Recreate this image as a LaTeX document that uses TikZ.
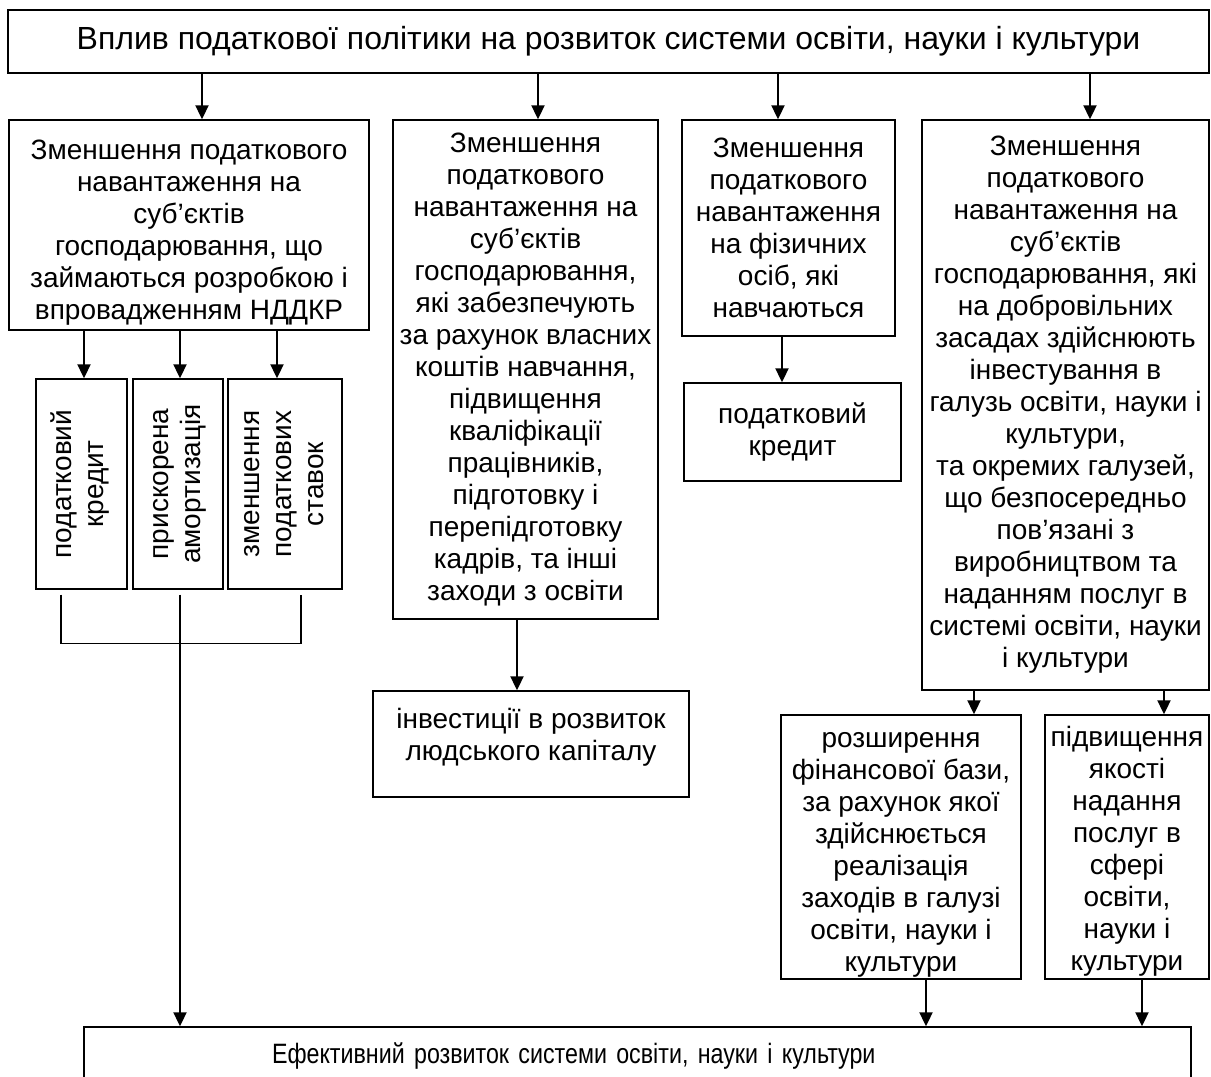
\documentclass[tikz,border=0pt]{standalone}
\usepackage{fontspec}
\usepackage{graphicx}
\setmainfont{Liberation Sans}
\newfontfamily\narrowfont[FakeStretch=0.83]{Liberation Sans}
\newcommand{\vgoru}[1]{\rule{0pt}{#1}}
\newcommand{\vnyz}[1]{\rule[-#1]{0pt}{0pt}}
\usetikzlibrary{arrows.meta,positioning}
\begin{document}
\begin{tikzpicture}[x=0.5pt, y=-0.5pt,
  font=\fontsize{14}{16}\selectfont,
  >={Triangle[length=7pt,width=6.5pt]},
  box/.style={draw, line width=0.7pt, align=center, inner sep=0pt},
  arr/.style={->, line width=1pt}]
  \path[use as bounding box, fill=white] (0,0) rectangle (1211,1077);
  \node[box, minimum width=600.5pt, minimum height=31.5pt, font=\fontsize{16}{18}\selectfont] (top) at (608.5,41.5) {Вплив податкової політики на розвиток системи освіти, науки і культури};
  \node[box, minimum width=180pt, minimum height=105pt] (rnd) at (189,225) {\vgoru{17pt}Зменшення податкового\\навантаження на\\суб’єктів\\господарювання, що\\займаються розробкою і\\впровадженням НДДКР};
  \node[box, minimum width=132.5pt, minimum height=249.5pt] (osv) at (525.5,369.5) {Зменшення\\податкового\\навантаження на\\суб’єктів\\господарювання,\\які забезпечують\\за рахунок власних\\коштів навчання,\\підвищення\\кваліфікації\\працівників,\\підготовку і\\перепідготовку\\кадрів, та інші\\заходи з освіти};
  \node[box, minimum width=106.5pt, minimum height=108pt] (fiz) at (788.5,228) {Зменшення\\податкового\\навантаження\\на фізичних\\осіб, які\\навчаються};
  \node[box, minimum width=143.5pt, minimum height=285pt] (inv) at (1065.5,405) {Зменшення\\податкового\\навантаження на\\суб’єктів\\господарювання, які\\на добровільних\\засадах здійснюють\\інвестування в\\галузь освіти, науки і\\культури,\\та окремих галузей,\\що безпосередньо\\пов’язані з\\виробництвом та\\наданням послуг в\\системі освіти, науки\\і культури};
  \node[box, minimum width=45.5pt, minimum height=105pt] (kred) at (81.5,484) {\rotatebox{90}{\begin{tabular}{@{}c@{}}податковий\\кредит\end{tabular}}};
  \node[box, minimum width=45pt, minimum height=105pt] (amort) at (178,484) {\rotatebox{90}{\begin{tabular}{@{}c@{}}прискорена\\амортизація\end{tabular}}};
  \node[box, minimum width=57pt, minimum height=105pt] (stavky) at (285,484) {\rotatebox{90}{\begin{tabular}{@{}c@{}}зменшення\\податкових\\ставок\end{tabular}}};
  \node[box, minimum width=108.5pt, minimum height=49pt] (kred2) at (792.5,432) {податковий\\кредит};
  \node[box, minimum width=158pt, minimum height=53pt] (kapital) at (531,744) {інвестиції в розвиток\\людського капіталу\vnyz{9.5pt}};
  \node[box, minimum width=120pt, minimum height=132pt] (fin) at (901,847) {\vgoru{15.5pt}розширення\\фінансової бази,\\за рахунок якої\\здійснюється\\реалізація\\заходів в галузі\\освіти, науки і\\культури};
  \node[box, minimum width=82pt, minimum height=132pt] (yakist) at (1127,847) {\vgoru{14.5pt}підвищення\\якості\\надання\\послуг в\\сфері\\освіти,\\науки і\\культури};
  \node[box, inner xsep=94pt, text width=365.5pt, align=left, minimum height=29pt, font=\narrowfont\fontsize{14}{16}\selectfont] (eff) at (637.5,1056) {Ефективний розвиток системи освіти, науки і культури};
  \coordinate[below=27pt of amort.south, xshift=1pt] (zbir);
  \draw[arr] ([xshift=6.5pt]rnd.north |- top.south) -- ([xshift=6.5pt]rnd.north);
  \draw[arr] ([xshift=6.25pt]osv.north |- top.south) -- ([xshift=6.25pt]osv.north);
  \draw[arr] ([xshift=-5.25pt]fiz.north |- top.south) -- ([xshift=-5.25pt]fiz.north);
  \draw[arr] ([xshift=12.25pt]inv.north |- top.south) -- ([xshift=12.25pt]inv.north);
  \draw[arr] ([xshift=1.25pt]kred.north |- rnd.south) -- ([xshift=1.25pt]kred.north);
  \draw[arr] ([xshift=1pt]amort.north |- rnd.south) -- ([xshift=1pt]amort.north);
  \draw[arr] ([xshift=-4pt]stavky.north |- rnd.south) -- ([xshift=-4pt]stavky.north);
  \draw[arr] ([xshift=-5.25pt]kred2.north |- fiz.south) -- ([xshift=-5.25pt]kred2.north);
  \draw[arr] ([xshift=-7pt]kapital.north |- osv.south) -- ([xshift=-7pt]kapital.north);
  \draw[arr] ([xshift=36.5pt]fin.north |- inv.south) -- ([xshift=36.5pt]fin.north);
  \draw[arr] ([xshift=18.5pt]yakist.north |- inv.south) -- ([xshift=18.5pt]yakist.north);
  \draw[arr] ([xshift=12.5pt]fin.south) -- ([xshift=12.5pt]fin.south |- eff.north);
  \draw[arr] ([xshift=7.5pt]yakist.south) -- ([xshift=7.5pt]yakist.south |- eff.north);
  \draw[line width=0.7pt] ([xshift=-10.25pt,yshift=-2.5pt]kred.south) |- (zbir) -| ([xshift=8pt,yshift=-2.5pt]stavky.south);
  \draw[line width=0.7pt] ([xshift=1pt,yshift=-2.5pt]amort.south) -- (zbir);
  \draw[arr] (zbir) -- (zbir |- eff.north);
\end{tikzpicture}
\end{document}
